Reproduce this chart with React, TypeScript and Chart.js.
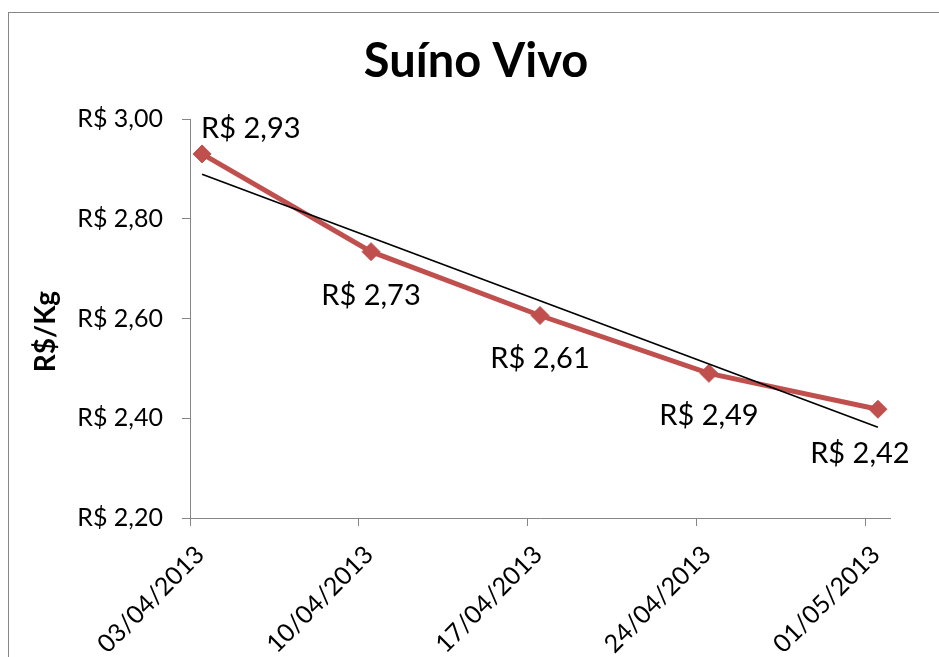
import { useEffect, useRef } from 'react';
import { Chart, registerables } from 'chart.js';

Chart.register(...registerables);

const FONT = 'Lato, "Open Sans", sans-serif';

const chartTitle = 'Suíno Vivo';
const yAxisTitle = 'R$/Kg';
const categories = ['03/04/2013', '10/04/2013', '17/04/2013', '24/04/2013', '01/05/2013'];
const dayOffsets = [0, 7, 14, 21, 28];
const prices = [2.93, 2.734, 2.606, 2.49, 2.418];
const yTicks = [2.2, 2.4, 2.6, 2.8, 3.0];
const dayRange = [0, 29];

const RED = '#C0504D';
const AXIS = '#868686';

function fmt(v: number) {
  return 'R$ ' + v.toFixed(2).replace('.', ',');
}

function linearFit(xs: number[], ys: number[]) {
  const n = xs.length;
  const mx = xs.reduce((a, b) => a + b, 0) / n;
  const my = ys.reduce((a, b) => a + b, 0) / n;
  let num = 0;
  let den = 0;
  for (let i = 0; i < n; i++) {
    num += (xs[i] - mx) * (ys[i] - my);
    den += (xs[i] - mx) * (xs[i] - mx);
  }
  const slope = num / den;
  return (x: number) => my + slope * (x - mx);
}

const labelAnchors = [
  { dx: -1, dy: -26, align: 'left' },
  { dx: 0, dy: 43, align: 'center' },
  { dx: 0, dy: 42, align: 'center' },
  { dx: 0, dy: 41, align: 'center' },
  { dx: -18, dy: 43, align: 'center' },
];

const dataLabelPlugin = {
  id: 'dataLabels',
  afterDatasetsDraw(chart: any) {
    const idx = chart.data.datasets.findIndex((d: any) => d.label === 'price');
    const meta = chart.getDatasetMeta(idx);
    const ctx = chart.ctx;
    ctx.save();
    ctx.font = `29px ${FONT}`;
    ctx.fillStyle = '#000';
    ctx.textBaseline = 'middle';
    meta.data.forEach((el: any, i: number) => {
      const a = labelAnchors[i];
      ctx.textAlign = a.align;
      ctx.fillText(fmt(prices[i]), el.x + a.dx, el.y + a.dy + 1);
    });
    ctx.restore();
  },
};

const titlesPlugin = {
  id: 'titles',
  afterDraw(chart: any) {
    const { ctx, chartArea, width } = chart;
    ctx.save();
    ctx.fillStyle = '#000';
    // chart title
    ctx.font = `bold 47px ${FONT}`;
    ctx.textAlign = 'center';
    ctx.textBaseline = 'alphabetic';
    ctx.fillText(chartTitle, width / 2 + 2, chartArea.top - 42);
    // y axis title
    ctx.translate(chartArea.left - 144, (chartArea.top + chartArea.bottom) / 2 + 13);
    ctx.rotate(-Math.PI / 2);
    ctx.font = `bold 28px ${FONT}`;
    ctx.textBaseline = 'middle';
    ctx.fillText(yAxisTitle, 0, 0);
    ctx.restore();
  },
};

export default function App() {
  const ref = useRef<HTMLCanvasElement>(null);

  useEffect(() => {
    if (!ref.current) return;
    const fit = linearFit(dayOffsets, prices);
    const points = dayOffsets.map((d, i) => ({ x: d + 0.5, y: prices[i] }));
    const first = dayOffsets[0] + 0.5;
    const last = dayOffsets[dayOffsets.length - 1] + 0.5;
    const trend = [
      { x: first, y: fit(dayOffsets[0]) },
      { x: last, y: fit(dayOffsets[dayOffsets.length - 1]) },
    ];

    const chart = new Chart(ref.current, {
      type: 'line',
      data: {
        datasets: [
          {
            label: 'trend',
            data: trend,
            borderColor: '#000',
            borderWidth: 1.75,
            pointRadius: 0,
            fill: false,
            order: 0,
          },
          {
            label: 'price',
            data: points,
            borderColor: RED,
            backgroundColor: RED,
            borderWidth: 5,
            pointStyle: 'rectRot',
            pointRadius: 9,
            pointBorderWidth: 1,
            pointBackgroundColor: RED,
            pointBorderColor: RED,
            fill: false,
            tension: 0,
            order: 1,
          },
        ],
      },
      options: {
        animation: false,
        responsive: false,
        devicePixelRatio: 1,
        layout: { padding: { left: 0, right: 49, top: 106, bottom: 0 } },
        plugins: {
          legend: { display: false },
          tooltip: { enabled: false },
          title: { display: false },
        },
        scales: {
          x: {
            type: 'linear',
            min: dayRange[0],
            max: dayRange[1],
            afterBuildTicks: (s: any) => {
              s.ticks = dayOffsets.map((v) => ({ value: v }));
            },
            afterFit: (s: any) => {
              s.height = 139;
              s.paddingLeft = 0;
              s.paddingRight = 0;
            },
            ticks: {
              autoSkip: false,
              minRotation: 45,
              maxRotation: 45,
              padding: 14,
              labelOffset: 10,
              color: '#000',
              font: { family: FONT, size: 25 },
              callback: (v: any) => {
                const i = dayOffsets.indexOf(Number(v));
                return i >= 0 ? categories[i] : '';
              },
            },
            grid: { display: true, drawOnChartArea: false, drawTicks: true, tickLength: 8, color: AXIS },
            border: { display: true, color: AXIS, width: 1 },
          },
          y: {
            min: yTicks[0],
            max: yTicks[yTicks.length - 1],
            afterBuildTicks: (s: any) => {
              s.ticks = yTicks.map((v) => ({ value: v }));
            },
            afterFit: (s: any) => {
              s.width = 181;
              s.paddingTop = 0;
              s.paddingBottom = 0;
            },
            ticks: {
              padding: 19,
              color: '#000',
              font: { family: FONT, size: 25 },
              callback: (v: any) => fmt(Number(v)),
            },
            grid: { display: true, drawOnChartArea: false, drawTicks: true, tickLength: 8, color: AXIS },
            border: { display: true, color: AXIS, width: 1 },
          },
        },
      },
      plugins: [dataLabelPlugin, titlesPlugin],
    } as any);

    return () => chart.destroy();
  }, []);

  return (
    <div
      style={{
        position: 'fixed',
        left: 8,
        top: 12,
        width: 932,
        height: 646,
        border: `1px solid ${AXIS}`,
        boxSizing: 'border-box',
        background: '#fff',
      }}
    >
      <canvas ref={ref} width={930} height={644} style={{ display: 'block' }} />
    </div>
  );
}
